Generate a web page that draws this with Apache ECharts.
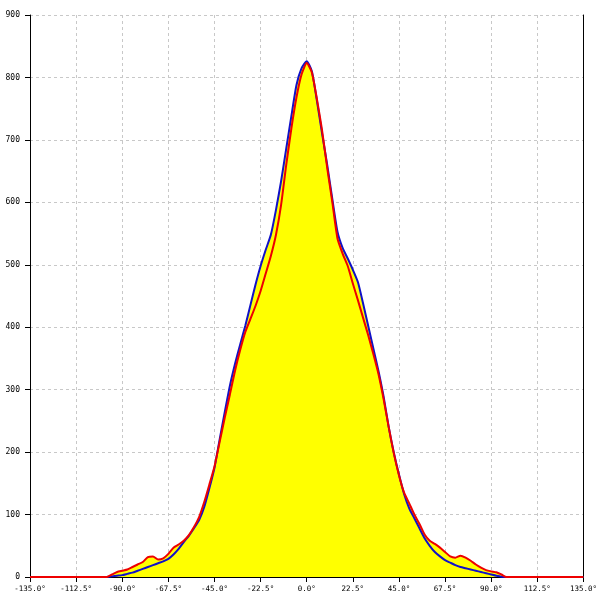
<!DOCTYPE html>
<html>
<head>
<meta charset="utf-8">
<script src="https://cdn.jsdelivr.net/npm/echarts@6/dist/echarts.min.js"></script>
<style>html,body{margin:0;padding:0;background:#fff;}#c{width:600px;height:600px;}</style>
</head>
<body>
<div id="c"></div>
<script>
var angles = [-135, -100, -97.5, -95, -92.5, -90, -87.5, -85, -82.5, -80, -77.5, -75, -72.5, -70, -67.5, -65, -62.5, -60, -57.5, -55, -52.5, -50, -47.5, -45, -42.5, -40, -37.5, -35, -32.5, -30, -27.5, -25, -22.5, -20, -17.5, -15, -12.5, -10, -7.5, -5, -2.5, 0,
  2.5, 5, 7.5, 10, 12.5, 15, 17.5, 20, 22.5, 25, 27.5, 30, 32.5, 35, 37.5, 40, 42.5, 45, 47.5, 50, 52.5, 55, 57.5, 60, 62.5, 65, 67.5, 70, 72.5, 75, 77.5, 80, 82.5, 85, 87.5, 90, 92.5, 95, 97.5, 100, 135];
var blueValues = [0, 0, 0, 1, 2, 3, 5, 7, 10, 13, 16, 19, 22, 25, 29, 36, 45, 56, 66, 78, 91, 112, 142, 175, 220, 264, 306, 341, 372, 402, 435, 468, 498, 524, 548, 588, 634, 686, 738, 788, 815, 826,
  810, 762, 710, 660, 605, 553, 527, 510, 492, 472, 438, 402, 366, 330, 289, 240, 199, 164, 133, 110, 94, 78, 62, 50, 40, 33, 27, 23, 19, 16, 14, 12, 10, 8, 6, 4, 2, 0.5, 0, 0, 0];
var redValues = [0, 0, 0, 4, 8, 10, 12, 16, 20, 24, 32, 33, 28, 30, 37, 47, 52, 58, 67, 80, 96, 120, 148, 177, 216, 255, 292, 330, 363, 392, 413, 434, 458, 486, 514, 548, 596, 660, 718, 768, 805, 823,
  808, 765, 715, 655, 600, 542, 518, 498, 470, 443, 415, 387, 357, 325, 285, 240, 198, 163, 135, 118, 100, 85, 68, 58, 53, 47, 40, 33, 31, 34, 31, 26, 20, 15, 11, 9, 7.5, 4, 0, 0, 0];
var yTicks = [0, 100, 200, 300, 400, 500, 600, 700, 800, 900];

function pairs(vals) { return angles.map(function (a, i) { return [a, vals[i]]; }); }

var chart = echarts.init(document.getElementById('c'), null, {renderer: 'canvas'});
var font = 'DejaVu Sans Mono';
var splitStyle = {show: true, lineStyle: {color: '#c8c8c8', type: [3, 3], width: 1}};
chart.setOption({
  animation: false,
  backgroundColor: '#ffffff',
  grid: {left: 30, right: 14, top: 15, bottom: 23},
  xAxis: {
    type: 'value', min: -135, max: 135, interval: 22.5,
    axisLine: {show: true, onZero: false, lineStyle: {color: '#000', width: 1}},
    axisTick: {show: true, length: 5, lineStyle: {color: '#000'}},
    axisLabel: {color: '#000', fontFamily: font, fontSize: 7.5, margin: 8, showMinLabel: true, showMaxLabel: true,
      formatter: function (v) { return v.toFixed(1) + '\u00b0'; }},
    splitLine: splitStyle
  },
  yAxis: [{
    type: 'value', min: yTicks[0], max: yTicks[yTicks.length - 1], interval: 100,
    axisLine: {show: true, onZero: false, lineStyle: {color: '#000', width: 1}},
    axisTick: {show: true, length: 5, lineStyle: {color: '#000'}},
    axisLabel: {color: '#000', fontFamily: font, fontSize: 8, margin: 10, showMaxLabel: true},
    splitLine: splitStyle
  }, {
    type: 'value', min: 0, max: 900, interval: 100, position: 'right',
    axisLine: {show: true, onZero: false, lineStyle: {color: '#000', width: 1}},
    axisTick: {show: false}, axisLabel: {show: false}, splitLine: {show: false}
  }],
  series: [
    {type: 'line', data: pairs(blueValues), symbol: 'none', smooth: 0.2, z: 1,
      lineStyle: {width: 0, opacity: 0}, areaStyle: {color: '#ffff00', opacity: 1}},
    {type: 'line', data: pairs(redValues), symbol: 'none', smooth: 0.2, z: 1,
      lineStyle: {width: 0, opacity: 0}, areaStyle: {color: '#ffff00', opacity: 1}},
    {type: 'line', data: pairs(blueValues), symbol: 'none', smooth: 0.2, z: 3,
      lineStyle: {width: 2, color: '#1010c8'}},
    {type: 'line', data: pairs(redValues), symbol: 'none', smooth: 0.2, z: 4,
      lineStyle: {width: 2, color: '#ee0000'}}
  ]
});
</script>
</body>
</html>
